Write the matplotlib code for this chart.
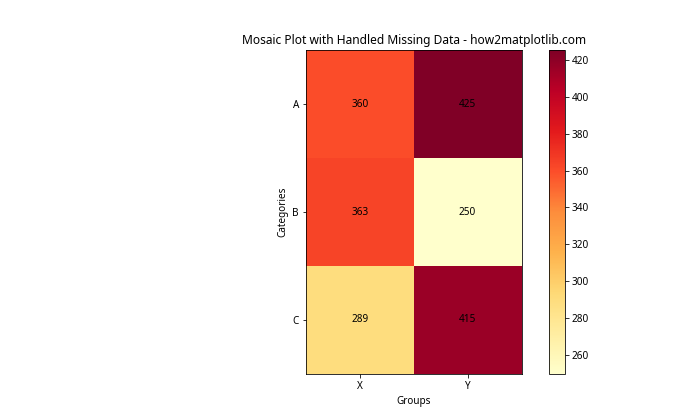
import numpy as np
import matplotlib
matplotlib.use("Agg")
import matplotlib.pyplot as plt

# Reference was drawn at a smaller point-to-pixel scale, so shrink text and pads
s = 0.72
plt.rcParams['font.family'] = ['Noto Sans', 'DejaVu Sans']
plt.rcParams['font.size'] = 10 * s
plt.rcParams['axes.titlesize'] = 12 * s
plt.rcParams['axes.titlepad'] = 6 * s
plt.rcParams['axes.labelpad'] = 4 * s
plt.rcParams['axes.linewidth'] = 0.8 * s
for a in ('xtick', 'ytick'):
    plt.rcParams[a + '.major.size'] = 3.5 * s
    plt.rcParams[a + '.major.pad'] = 3.5 * s
    plt.rcParams[a + '.major.width'] = 0.8 * s

categories = ["A", "B", "C"]
groups = ["X", "Y"]
values = np.array([
    [360, 425],
    [363, 250],
    [289, 415],
])

fig = plt.figure(figsize=(7, 4.2), dpi=100)
ax = fig.add_subplot(111)
im = ax.imshow(values, cmap="YlOrRd")
fig.colorbar(im)

# Cell labels
for i in range(len(categories)):
    for j in range(len(groups)):
        ax.text(j, i, str(values[i, j]), ha="center", va="center", color="black")

ax.set_xticks(range(len(groups)))
ax.set_xticklabels(groups)
ax.set_yticks(range(len(categories)))
ax.set_yticklabels(categories)
ax.set_xlabel("Groups")
ax.set_ylabel("Categories")
ax.set_title("Mosaic Plot with Handled Missing Data - how2matplotlib.com")

plt.savefig("out.png")
